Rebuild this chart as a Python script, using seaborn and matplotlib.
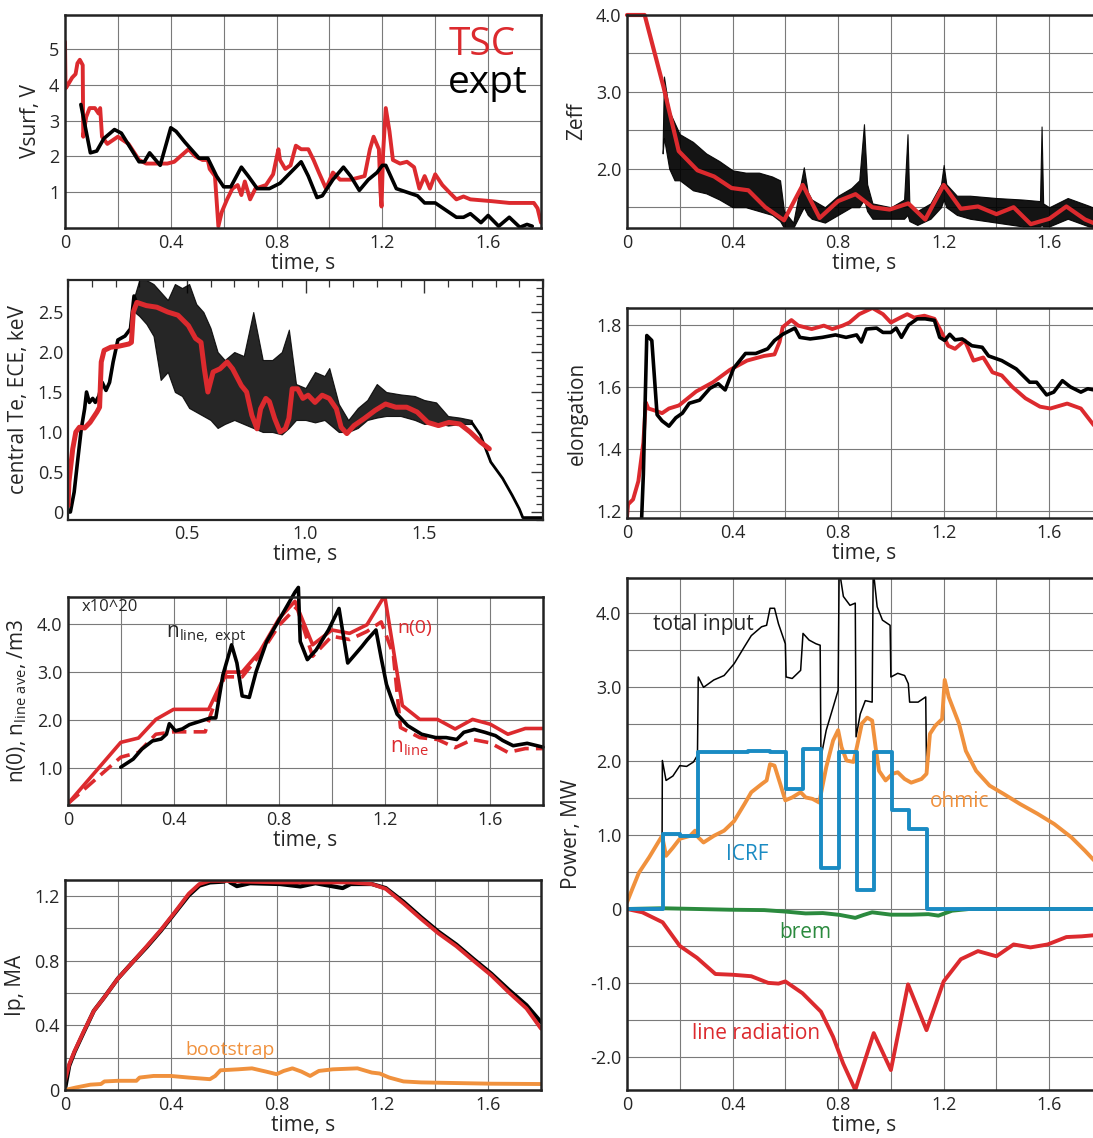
# tokamak discharge: TSC simulation vs experiment

import numpy as np
import matplotlib
matplotlib.use('Agg')
import matplotlib.pyplot as plt
from matplotlib.ticker import MultipleLocator
import seaborn as sns

sns.set_theme(style='white')
plt.rcParams['font.family'] = ['Open Sans', 'DejaVu Sans']
plt.rcParams['mathtext.fontset'] = 'custom'
plt.rcParams['mathtext.rm'] = 'Open Sans'
plt.rcParams['mathtext.it'] = 'Open Sans'

RED = '#dc2a2e'
ORANGE = '#f0913d'
BLUE = '#1a8bc3'
GREEN = '#2b8a3e'

# ---- surface voltage ----
vs_tsc_t = [0.0, 0.002, 0.007, 0.027, 0.04, 0.047, 0.056, 0.067, 0.069, 0.08, 0.093, 0.113, 0.127, 0.133,
            0.14, 0.16, 0.2, 0.24, 0.28, 0.307, 0.387, 0.413, 0.467, 0.493, 0.52, 0.54, 0.547, 0.567, 0.58,
            0.593, 0.613, 0.633, 0.653, 0.667, 0.68, 0.7, 0.72, 0.76, 0.787, 0.807, 0.813, 0.833, 0.853, 0.873,
            0.893, 0.92, 0.94, 0.96, 0.987, 1.013, 1.04, 1.08, 1.133, 1.153, 1.167, 1.187, 1.193, 1.197, 1.203,
            1.213, 1.227, 1.24, 1.267, 1.293, 1.32, 1.34, 1.36, 1.38, 1.4, 1.427, 1.453, 1.48, 1.507, 1.533,
            1.613, 1.68, 1.773, 1.787, 1.8]
vs_tsc = [5.2, 3.9, 3.95, 4.2, 4.3, 4.6, 4.7, 4.55, 2.55, 3.1, 3.35, 3.35, 3.2, 3.35,
          2.55, 2.35, 2.55, 2.35, 1.9, 1.8, 1.8, 1.85, 2.2, 2.0, 1.9, 1.9, 1.65, 1.45, 0.05,
          0.45, 0.8, 1.1, 1.2, 0.92, 1.3, 0.8, 1.1, 1.2, 1.5, 2.2, 1.9, 1.65, 1.75, 2.3,
          2.2, 2.2, 1.9, 1.55, 1.1, 1.55, 1.35, 1.35, 1.45, 2.2, 2.55, 2.2, 1.0, 0.6, 2.1,
          3.35, 2.7, 1.9, 1.8, 1.85, 1.7, 1.1, 1.45, 1.1, 1.5, 1.2, 1.0, 0.8, 0.88, 0.8,
          0.75, 0.7, 0.7, 0.55, 0.15]
vs_exp_t = [0.06, 0.096, 0.12, 0.147, 0.187, 0.213, 0.28, 0.3, 0.32, 0.36, 0.4, 0.42, 0.453, 0.507, 0.54,
            0.573, 0.6, 0.627, 0.667, 0.693, 0.727, 0.773, 0.813, 0.853, 0.893, 0.92, 0.953, 0.973, 1.013,
            1.053, 1.08, 1.113, 1.147, 1.18, 1.2, 1.213, 1.253, 1.293, 1.333, 1.36, 1.4, 1.44, 1.48, 1.507,
            1.533, 1.573, 1.6, 1.64, 1.68, 1.72, 1.747, 1.767]
vs_exp = [3.45, 2.1, 2.15, 2.5, 2.75, 2.65, 1.85, 1.85, 2.1, 1.75, 2.8, 2.7, 2.4, 1.95, 1.95,
          1.45, 1.15, 1.15, 1.7, 1.45, 1.1, 1.1, 1.25, 1.55, 1.85, 1.45, 0.85, 0.9, 1.35,
          1.7, 1.45, 1.05, 1.35, 1.55, 1.75, 1.75, 1.1, 1.0, 0.9, 0.7, 0.7, 0.5, 0.3, 0.3,
          0.4, 0.15, 0.35, 0.05, 0.3, 0.02, 0.1, 0.05]

# ---- Zeff ----
zeff_tsc_t = [0.0, 0.067, 0.138, 0.196, 0.267, 0.33, 0.396, 0.46, 0.524, 0.595, 0.666, 0.73, 0.8, 0.866,
              0.93, 0.995, 1.066, 1.13, 1.2, 1.265, 1.33, 1.4, 1.465, 1.53, 1.6, 1.665, 1.736, 1.8]
zeff_tsc = [4.0, 4.0, 3.07, 2.23, 1.98, 1.9, 1.75, 1.72, 1.5, 1.33, 1.79, 1.36, 1.58, 1.67,
            1.5, 1.47, 1.55, 1.34, 1.79, 1.48, 1.51, 1.41, 1.5, 1.28, 1.35, 1.51, 1.34, 1.25]
zeff_exp_t = [0.135, 0.14, 0.16, 0.18, 0.2, 0.25, 0.3, 0.35, 0.4, 0.45, 0.5, 0.55, 0.58, 0.595, 0.63,
              0.655, 0.67, 0.685, 0.7, 0.75, 0.8, 0.85, 0.88, 0.898, 0.91, 0.93, 1.0, 1.05, 1.063, 1.07,
              1.1, 1.15, 1.19, 1.2, 1.21, 1.25, 1.3, 1.4, 1.5, 1.565, 1.571, 1.577, 1.6, 1.67, 1.75, 1.8]
zeff_exp_hi = [2.3, 3.2, 2.75, 2.6, 2.45, 2.35, 2.2, 2.1, 1.98, 1.95, 1.95, 1.9, 1.85, 1.45, 1.3,
               1.75, 2.02, 1.7, 1.6, 1.5, 1.65, 1.75, 1.85, 2.58, 1.8, 1.55, 1.5, 1.6, 2.45, 1.55,
               1.45, 1.55, 1.8, 2.05, 1.8, 1.65, 1.65, 1.62, 1.6, 1.58, 2.55, 1.55, 1.5, 1.62, 1.52, 1.45]
zeff_exp_lo = [2.2, 2.4, 2.0, 1.85, 1.85, 1.72, 1.68, 1.6, 1.5, 1.5, 1.45, 1.4, 1.32, 1.23, 1.23,
               1.4, 1.5, 1.4, 1.35, 1.3, 1.4, 1.5, 1.5, 1.6, 1.45, 1.35, 1.35, 1.35, 1.4, 1.32,
               1.27, 1.35, 1.5, 1.6, 1.5, 1.4, 1.35, 1.3, 1.25, 1.25, 1.27, 1.25, 1.25, 1.35, 1.25, 1.23]

# ---- central Te ----
te_tsc_t = [0.0, 0.004, 0.02, 0.033, 0.048, 0.07, 0.093, 0.122, 0.133, 0.14, 0.152, 0.18, 0.21, 0.256,
            0.267, 0.275, 0.29, 0.33, 0.374, 0.42, 0.463, 0.507, 0.537, 0.56, 0.574, 0.589, 0.611, 0.64,
            0.67, 0.693, 0.73, 0.752, 0.774, 0.796, 0.811, 0.833, 0.848, 0.87, 0.893, 0.915, 0.93, 0.944,
            0.967, 0.989, 1.011, 1.04, 1.07, 1.1, 1.13, 1.15, 1.174, 1.204, 1.248, 1.293, 1.337, 1.38,
            1.426, 1.47, 1.515, 1.56, 1.604, 1.65, 1.693, 1.737, 1.774]
te_tsc = [0.08, 0.375, 0.79, 1.0, 1.06, 1.05, 1.12, 1.25, 1.31, 1.875, 2.02, 2.06, 2.07, 2.1,
          2.12, 2.5, 2.62, 2.58, 2.56, 2.5, 2.46, 2.33, 2.17, 2.12, 1.79, 1.5, 1.75, 1.79,
          1.875, 1.79, 1.58, 1.5, 1.21, 1.04, 1.29, 1.42, 1.38, 1.17, 1.0, 1.04, 1.17, 1.54,
          1.54, 1.42, 1.46, 1.37, 1.46, 1.42, 1.29, 1.06, 0.98, 1.08, 1.17, 1.27, 1.35, 1.31,
          1.31, 1.25, 1.12, 1.08, 1.12, 1.1, 1.0, 0.875, 0.79]
te_exp_rise_t = [0.0, 0.01, 0.026, 0.04, 0.056, 0.07, 0.078, 0.09, 0.104, 0.115, 0.13, 0.144, 0.16, 0.175,
                 0.19, 0.21, 0.24, 0.263, 0.278, 0.29]
te_exp_rise = [0.0, 0.0, 0.25, 0.625, 1.04, 1.29, 1.5, 1.37, 1.42, 1.37, 1.45, 1.62, 1.52, 1.62,
               1.875, 2.15, 2.2, 2.29, 2.7, 2.6]
te_exp_band_t = [0.28, 0.30, 0.33, 0.36, 0.39, 0.42, 0.45, 0.48, 0.51, 0.54, 0.57, 0.60, 0.63, 0.66, 0.70,
                 0.74, 0.78, 0.82, 0.86, 0.90, 0.93, 0.96, 1.00, 1.04, 1.08, 1.10, 1.14, 1.18, 1.22, 1.26,
                 1.30, 1.34, 1.40, 1.46, 1.50, 1.55, 1.60, 1.65, 1.70]
te_exp_hi = [2.7, 2.9, 2.9, 2.85, 2.75, 2.65, 2.85, 2.8, 2.85, 2.6, 2.5, 2.3, 2.0, 1.9, 2.0,
             1.95, 2.5, 1.9, 1.9, 2.0, 2.28, 1.6, 1.55, 1.75, 1.7, 1.8, 1.35, 1.15, 1.3, 1.4,
             1.6, 1.5, 1.47, 1.45, 1.4, 1.37, 1.2, 1.18, 1.15]
te_exp_lo = [2.5, 2.45, 2.35, 2.2, 1.65, 1.75, 1.5, 1.45, 1.3, 1.25, 1.2, 1.15, 1.05, 1.1, 1.15,
             1.1, 1.05, 1.0, 1.0, 0.97, 1.05, 1.15, 1.15, 1.12, 1.15, 1.1, 1.0, 1.0, 1.05, 1.15,
             1.18, 1.2, 1.2, 1.15, 1.1, 1.12, 1.08, 1.1, 1.1]
te_exp_fall_t = [1.7, 1.737, 1.78, 1.83, 1.87, 1.9, 1.915, 2.0]
te_exp_fall = [1.12, 0.96, 0.625, 0.42, 0.21, 0.04, -0.07, -0.07]

# ---- elongation ----
el_tsc_t = [0.0, 0.004, 0.023, 0.043, 0.062, 0.071, 0.081, 0.1, 0.133, 0.159, 0.197, 0.262, 0.326, 0.39,
            0.455, 0.52, 0.559, 0.578, 0.59, 0.623, 0.649, 0.7, 0.746, 0.778, 0.817, 0.843, 0.88, 0.93,
            0.97, 1.0, 1.036, 1.062, 1.088, 1.127, 1.165, 1.19, 1.217, 1.243, 1.28, 1.313, 1.35, 1.385,
            1.42, 1.46, 1.51, 1.565, 1.604, 1.668, 1.72, 1.768, 1.8]
el_tsc = [1.178, 1.22, 1.236, 1.295, 1.42, 1.55, 1.53, 1.525, 1.515, 1.53, 1.54, 1.585, 1.615, 1.655,
          1.685, 1.7, 1.705, 1.745, 1.793, 1.816, 1.798, 1.787, 1.798, 1.787, 1.798, 1.808, 1.835, 1.855,
          1.835, 1.808, 1.824, 1.835, 1.824, 1.83, 1.82, 1.78, 1.733, 1.723, 1.75, 1.685, 1.695, 1.647,
          1.637, 1.6, 1.563, 1.536, 1.53, 1.546, 1.53, 1.477, 1.45]
el_exp_t = [0.052, 0.062, 0.075, 0.094, 0.114, 0.133, 0.159, 0.185, 0.21, 0.236, 0.275, 0.314, 0.346, 0.372,
            0.404, 0.449, 0.488, 0.533, 0.559, 0.59, 0.636, 0.655, 0.694, 0.74, 0.79, 0.83, 0.87, 0.888,
            0.907, 0.946, 0.97, 1.0, 1.02, 1.04, 1.067, 1.1, 1.13, 1.165, 1.185, 1.204, 1.223, 1.243,
            1.27, 1.307, 1.346, 1.37, 1.42, 1.475, 1.526, 1.552, 1.59, 1.617, 1.65, 1.68, 1.72, 1.746,
            1.77, 1.8]
el_exp = [1.1, 1.317, 1.766, 1.75, 1.51, 1.49, 1.473, 1.5, 1.515, 1.547, 1.557, 1.595, 1.61, 1.59,
          1.66, 1.708, 1.708, 1.723, 1.75, 1.77, 1.79, 1.76, 1.755, 1.76, 1.768, 1.76, 1.768, 1.745,
          1.787, 1.79, 1.776, 1.776, 1.79, 1.76, 1.8, 1.82, 1.82, 1.815, 1.76, 1.75, 1.77, 1.752,
          1.755, 1.733, 1.728, 1.7, 1.685, 1.658, 1.615, 1.615, 1.574, 1.583, 1.62, 1.6, 1.583, 1.594,
          1.59, 1.59]

# ---- density ----
n0_t = [0.0, 0.2, 0.267, 0.333, 0.4, 0.533, 0.6, 0.66, 0.727, 0.8, 0.86, 0.927, 1.0, 1.067, 1.133, 1.2,
        1.267, 1.333, 1.4, 1.467, 1.533, 1.6, 1.667, 1.733, 1.8]
n0 = [0.25, 1.53, 1.62, 2.01, 2.22, 2.22, 3.0, 3.0, 3.43, 4.12, 4.48, 3.57, 3.88, 3.81, 3.99, 4.6,
      2.3, 2.01, 2.01, 1.81, 2.01, 1.91, 1.7, 1.82, 1.82]
nline_t = [0.0, 0.2, 0.267, 0.333, 0.4, 0.52, 0.54, 0.593, 0.66, 0.727, 0.8, 0.867, 0.927, 1.0, 1.067,
           1.133, 1.187, 1.233, 1.26, 1.333, 1.4, 1.467, 1.533, 1.6, 1.667, 1.733, 1.8]
nline = [0.25, 1.22, 1.32, 1.7, 1.75, 1.75, 2.1, 2.9, 2.9, 3.36, 3.98, 4.36, 3.33, 3.75, 3.68,
         3.85, 4.05, 3.36, 1.84, 1.63, 1.59, 1.42, 1.59, 1.52, 1.32, 1.4, 1.4]
nexp_t = [0.2, 0.247, 0.28, 0.32, 0.353, 0.373, 0.384, 0.407, 0.433, 0.46, 0.5, 0.54, 0.56, 0.587, 0.62,
          0.64, 0.66, 0.687, 0.713, 0.753, 0.807, 0.86, 0.873, 0.88, 0.907, 0.94, 0.987, 1.027, 1.06,
          1.113, 1.133, 1.167, 1.187, 1.207, 1.247, 1.287, 1.34, 1.393, 1.433, 1.473, 1.5, 1.54, 1.58,
          1.62, 1.647, 1.687, 1.74, 1.8]
nexp = [1.01, 1.18, 1.39, 1.56, 1.6, 1.7, 1.92, 1.77, 1.81, 1.9, 1.97, 2.04, 2.04, 2.94, 3.57,
        3.19, 2.5, 2.47, 3.01, 3.64, 4.16, 4.67, 4.77, 3.64, 3.26, 3.46, 3.88, 4.33, 3.19,
        3.53, 3.67, 3.88, 3.29, 2.74, 2.12, 1.88, 1.7, 1.63, 1.63, 1.59, 1.74, 1.8, 1.74,
        1.67, 1.57, 1.46, 1.51, 1.43]

# ---- plasma current ----
ip_t = [0.0, 0.016, 0.036, 0.07, 0.109, 0.149, 0.2, 0.255, 0.309, 0.362, 0.415, 0.468, 0.508, 0.548,
        0.601, 0.68, 0.813, 0.947, 1.08, 1.16, 1.213, 1.28, 1.346, 1.412, 1.48, 1.545, 1.612, 1.678,
        1.745, 1.8]
ip_tsc = [0.057, 0.16, 0.24, 0.36, 0.49, 0.575, 0.69, 0.79, 0.89, 0.99, 1.1, 1.215, 1.275, 1.295,
          1.295, 1.29, 1.285, 1.285, 1.285, 1.275, 1.245, 1.155, 1.06, 0.97, 0.89, 0.8, 0.71, 0.605,
          0.505, 0.38]
ip_exp_t = [0.0, 0.016, 0.036, 0.07, 0.109, 0.149, 0.2, 0.255, 0.309, 0.362, 0.415, 0.468, 0.508, 0.548,
            0.601, 0.612, 0.625, 0.65, 0.7, 0.813, 0.89, 0.947, 1.05, 1.08, 1.16, 1.213, 1.28, 1.346,
            1.412, 1.48, 1.545, 1.612, 1.678, 1.745, 1.8]
ip_exp = [0.005, 0.15, 0.235, 0.355, 0.49, 0.575, 0.69, 0.79, 0.885, 0.985, 1.095, 1.205, 1.265, 1.285,
          1.29, 1.31, 1.285, 1.262, 1.28, 1.275, 1.26, 1.28, 1.25, 1.275, 1.275, 1.25, 1.165, 1.07,
          0.98, 0.9, 0.81, 0.72, 0.62, 0.525, 0.42]
boot_t = [0.0, 0.043, 0.096, 0.136, 0.149, 0.2, 0.27, 0.282, 0.335, 0.4, 0.468, 0.548, 0.568, 0.588,
          0.654, 0.707, 0.76, 0.8, 0.827, 0.86, 0.894, 0.927, 0.96, 1.013, 1.106, 1.16, 1.19, 1.226,
          1.28, 1.346, 1.48, 1.612, 1.8]
boot = [0.0, 0.016, 0.033, 0.037, 0.053, 0.057, 0.057, 0.077, 0.087, 0.087, 0.077, 0.067, 0.087, 0.122,
        0.128, 0.134, 0.114, 0.098, 0.118, 0.134, 0.114, 0.087, 0.118, 0.128, 0.134, 0.108, 0.102, 0.077,
        0.053, 0.047, 0.043, 0.039, 0.037]

# ---- power balance ----
tot_t = [0.0, 0.045, 0.084, 0.133, 0.134, 0.148, 0.174, 0.2, 0.226, 0.252, 0.267, 0.27, 0.29, 0.329,
         0.368, 0.406, 0.445, 0.471, 0.51, 0.529, 0.542, 0.559, 0.574, 0.6, 0.603, 0.626, 0.658, 0.667,
         0.69, 0.716, 0.732, 0.735, 0.755, 0.781, 0.8, 0.804, 0.82, 0.845, 0.865, 0.868, 0.884, 0.903,
         0.929, 0.933, 0.948, 0.968, 0.997, 1.0, 1.026, 1.052, 1.066, 1.071, 1.103, 1.132, 1.135]
tot = [0.09, 0.49, 0.7, 0.99, 2.01, 1.74, 1.8, 1.94, 1.93, 1.99, 2.08, 3.14, 3.0, 3.1,
       3.16, 3.32, 3.55, 3.7, 3.82, 3.84, 4.07, 4.07, 3.86, 3.59, 3.14, 3.12, 3.23, 3.73,
       3.64, 3.59, 3.57, 2.05, 2.42, 2.73, 2.96, 4.6, 4.23, 4.11, 4.14, 2.33, 2.64, 2.82,
       2.8, 4.6, 4.09, 3.91, 3.84, 3.14, 3.19, 3.16, 3.05, 2.8, 2.8, 2.87, 1.9]
icrf_t = [0.0, 0.135, 0.2, 0.268, 0.46, 0.54, 0.603, 0.667, 0.735, 0.804, 0.871, 0.935, 1.003, 1.067,
          1.135, 1.8]
icrf = [0.0, 1.02, 0.99, 2.12, 2.14, 2.12, 1.63, 2.16, 0.56, 2.12, 0.26, 2.12, 1.34, 1.08, 0.0, 0.0]
ohm_t = [0.0, 0.02, 0.045, 0.084, 0.133, 0.148, 0.174, 0.2, 0.239, 0.258, 0.27, 0.29, 0.329, 0.368,
         0.406, 0.445, 0.471, 0.51, 0.529, 0.542, 0.559, 0.581, 0.6, 0.626, 0.658, 0.677, 0.703, 0.729,
         0.735, 0.755, 0.781, 0.8, 0.813, 0.832, 0.858, 0.871, 0.89, 0.91, 0.929, 0.942, 0.955, 0.98,
         1.006, 1.026, 1.052, 1.077, 1.116, 1.135, 1.148, 1.168, 1.194, 1.204, 1.219, 1.258, 1.284,
         1.323, 1.374, 1.426, 1.49, 1.555, 1.619, 1.684, 1.735, 1.772, 1.8]
ohm = [0.09, 0.27, 0.49, 0.7, 0.99, 0.72, 0.83, 0.95, 0.99, 1.06, 0.97, 0.9, 0.99, 1.06,
       1.19, 1.42, 1.58, 1.69, 1.74, 1.96, 1.94, 1.69, 1.47, 1.51, 1.58, 1.51, 1.49, 1.44,
       1.56, 1.92, 2.28, 2.42, 2.19, 2.01, 1.99, 2.19, 2.51, 2.59, 2.55, 2.19, 1.87, 1.74,
       1.83, 1.85, 1.76, 1.71, 1.76, 1.83, 2.37, 2.48, 2.57, 3.1, 2.87, 2.51, 2.14,
       1.87, 1.67, 1.56, 1.42, 1.29, 1.15, 0.97, 0.79, 0.65, 0.55]
brem_t = [0.0, 0.135, 0.265, 0.39, 0.52, 0.6, 0.677, 0.742, 0.806, 0.865, 0.897, 0.929, 1.0, 1.077,
          1.142, 1.18, 1.232, 1.297, 1.8]
brem = [0.0, 0.01, 0.0, -0.01, -0.015, -0.035, -0.06, -0.055, -0.08, -0.12, -0.08, -0.045, -0.077,
        -0.077, -0.07, -0.09, -0.023, 0.0, 0.0]
lrad_t = [0.0, 0.058, 0.135, 0.2, 0.265, 0.335, 0.4, 0.471, 0.535, 0.574, 0.6, 0.665, 0.735, 0.781,
          0.819, 0.865, 0.935, 1.0, 1.065, 1.135, 1.2, 1.265, 1.33, 1.4, 1.465, 1.529, 1.594, 1.665,
          1.723, 1.77, 1.8]
lrad = [0.0, -0.045, -0.18, -0.5, -0.66, -0.88, -0.89, -0.91, -1.0, -1.01, -0.98, -1.14, -1.39, -1.73,
        -2.09, -2.45, -1.68, -2.18, -1.02, -1.64, -0.98, -0.68, -0.57, -0.64, -0.48, -0.52, -0.48, -0.38,
        -0.37, -0.355, -0.35]

time_ticks = [0, 0.4, 0.8, 1.2, 1.6]
time_labels = ['0', '0.4', '0.8', '1.2', '1.6']

W, H = 1093, 1138
fig = plt.figure(figsize=(W / 100, H / 100), dpi=100)


def box(x0, y0, x1, y1):
    # pixel box -> figure fraction
    return [x0 / W, 1 - y1 / H, (x1 - x0) / W, (y1 - y0) / H]


def trace(ax, x, y, color, lw, **kw):
    sns.lineplot(x=x, y=y, ax=ax, color=color, linewidth=lw, estimator=None,
                 sort=False, legend=False, **kw)


def grid_panel(ax, ylim, yticks, ylabels, ygrid, ylabel):
    ax.set_xlim(0, 1.8)
    ax.set_ylim(*ylim)
    ax.set_xticks(time_ticks)
    ax.set_xticklabels(time_labels)
    ax.set_xticks([0.2, 0.6, 1.0, 1.4], minor=True)
    ax.set_yticks(yticks)
    ax.set_yticklabels(ylabels)
    ax.set_yticks(ygrid, minor=True)
    ax.grid(which='both', color='#7a7a7a', lw=0.8)
    ax.set_axisbelow(True)
    ax.tick_params(which='both', length=0, labelsize=13, pad=4)
    for s in ax.spines.values():
        s.set_linewidth(1.8)
        s.set_color('#222222')
    ax.set_xlabel('time, s', fontsize=15, labelpad=1)
    ax.set_ylabel(ylabel, fontsize=15, labelpad=6)


# Vsurf
ax1 = fig.add_axes(box(65, 15, 541, 228))
trace(ax1, vs_tsc_t, vs_tsc, RED, 2.8)
trace(ax1, vs_exp_t, vs_exp, 'black', 2.6)
grid_panel(ax1, (0, 5.95), [1, 2, 3, 4, 5], ['1', '2', '3', '4', '5'], [], 'Vsurf, V')
ax1.text(1.577, 5.1, 'TSC', color=RED, fontsize=28, ha='center', va='center')
ax1.text(1.6, 4.05, 'expt', color='black', fontsize=28, ha='center', va='center')

# Zeff
ax2 = fig.add_axes(box(627, 15, 1102, 228))
ax2.fill_between(zeff_exp_t, zeff_exp_lo, zeff_exp_hi, color='black', lw=0.8, alpha=0.92)
trace(ax2, zeff_tsc_t, zeff_tsc, RED, 3.0, clip_on=False)
grid_panel(ax2, (1.23, 4.0), [2.0, 3.0, 4.0], ['2.0', '3.0', '4.0'], [1.5, 2.5, 3.5], 'Zeff')

# central Te
ax3 = fig.add_axes(box(68, 280, 543, 520))
trace(ax3, te_exp_rise_t, te_exp_rise, 'black', 2.6)
ax3.fill_between(te_exp_band_t, te_exp_lo, te_exp_hi, color='black', lw=0.8, alpha=0.85)
trace(ax3, te_exp_fall_t, te_exp_fall, 'black', 2.0)
trace(ax3, te_tsc_t, te_tsc, RED, 3.6)
ax3.set_xlim(0, 2.0)
ax3.set_ylim(-0.1, 2.9)
ax3.set_xticks([0.5, 1.0, 1.5])
ax3.set_xticklabels(['0.5', '1.0', '1.5'])
ax3.set_yticks([0, 0.5, 1.0, 1.5, 2.0, 2.5])
ax3.set_yticklabels(['0', '0.5', '1.0', '1.5', '2.0', '2.5'])
ax3.xaxis.set_minor_locator(MultipleLocator(0.1))
ax3.yaxis.set_minor_locator(MultipleLocator(0.1))
ax3.tick_params(which='both', direction='in', top=True, right=True, labelsize=13, color='#333333')
ax3.tick_params(which='major', length=9, width=1.0)
ax3.tick_params(which='minor', length=5, width=0.9)
for s in ax3.spines.values():
    s.set_linewidth(1.6)
ax3.set_xlabel('time, s', fontsize=15, labelpad=1)
ax3.set_ylabel('central Te, ECE, keV', fontsize=15, labelpad=6)

# elongation
ax4 = fig.add_axes(box(627, 308, 1102, 518))
trace(ax4, el_tsc_t, el_tsc, RED, 2.8)
trace(ax4, el_exp_t, el_exp, 'black', 2.6)
grid_panel(ax4, (1.176, 1.855), [1.2, 1.4, 1.6, 1.8], ['1.2', '1.4', '1.6', '1.8'], [], 'elongation')

# density
ax5 = fig.add_axes(box(68, 597, 543, 805))
trace(ax5, n0_t, n0, RED, 2.6)
trace(ax5, nline_t, nline, RED, 2.6, linestyle=(0, (4, 2)))
trace(ax5, nexp_t, nexp, 'black', 2.6, clip_on=False)
grid_panel(ax5, (0.22, 4.57), [1.0, 2.0, 3.0, 4.0], ['1.0', '2.0', '3.0', '4.0'], [],
           r'n(0), n$_{\mathrm{line\ ave}}$, /m3')
ax5.text(0.05, 4.36, 'x10^20', fontsize=12, ha='left', va='center')
ax5.text(0.37, 3.75, r'n$_{\mathrm{line,\ expt}}$', fontsize=15, ha='left', va='center')
ax5.text(1.25, 3.92, 'n(0)', color=RED, fontsize=14, ha='left', va='center')
ax5.text(1.22, 1.42, r'n$_{\mathrm{line}}$', color=RED, fontsize=15, ha='left', va='center')

# Ip
ax6 = fig.add_axes(box(65, 880, 541, 1090))
trace(ax6, ip_exp_t, ip_exp, 'black', 3.0)
trace(ax6, ip_t, ip_tsc, RED, 2.8)
trace(ax6, boot_t, boot, ORANGE, 2.8)
grid_panel(ax6, (0, 1.3), [0, 0.4, 0.8, 1.2], ['0', '0.4', '0.8', '1.2'], [0.2, 0.6, 1.0], 'Ip, MA')
ax6.text(0.626, 0.25, 'bootstrap', color=ORANGE, fontsize=14, ha='center', va='center')

# power
ax7 = fig.add_axes(box(627, 578, 1102, 1090))
trace(ax7, tot_t, tot, 'black', 1.1)
trace(ax7, ohm_t, ohm, ORANGE, 2.8)
trace(ax7, brem_t, brem, GREEN, 2.8)
trace(ax7, lrad_t, lrad, RED, 2.8)
trace(ax7, icrf_t, icrf, BLUE, 2.8, drawstyle='steps-post')
grid_panel(ax7, (-2.45, 4.48), [-2.0, -1.0, 0, 1.0, 2.0, 3.0, 4.0],
           ['-2.0', '-1.0', '0', '1.0', '2.0', '3.0', '4.0'],
           [-1.5, -0.5, 0.5, 1.5, 2.5, 3.5], 'Power, MW')
ax7.text(0.29, 3.85, 'total input', fontsize=15, ha='center', va='center')
ax7.text(0.455, 0.74, 'ICRF', color=BLUE, fontsize=15, ha='center', va='center')
ax7.text(1.26, 1.45, 'ohmic', color=ORANGE, fontsize=15, ha='center', va='center')
ax7.text(0.674, -0.32, 'brem', color=GREEN, fontsize=15, ha='center', va='center')
ax7.text(0.49, -1.68, 'line radiation', color=RED, fontsize=15, ha='center', va='center')

fig.savefig('out.png', dpi=100)
